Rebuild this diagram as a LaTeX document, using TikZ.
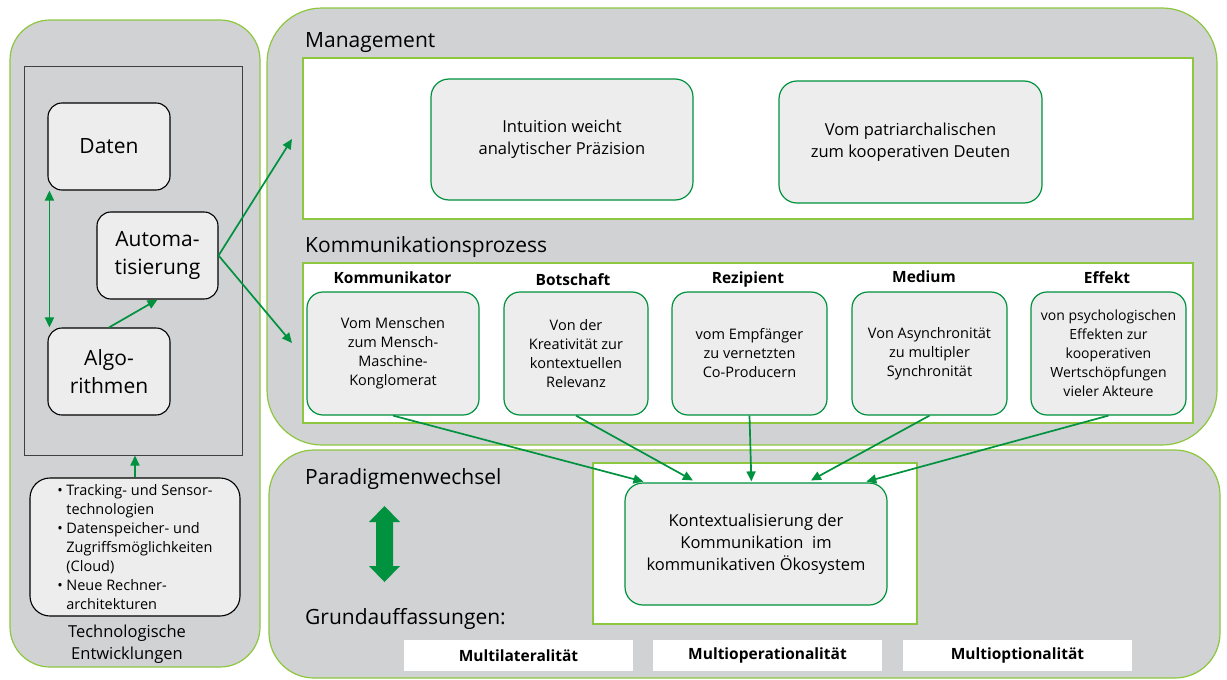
\documentclass[tikz,border=0pt]{standalone}
\usepackage{fontspec}
\setmainfont{Open Sans}
\usetikzlibrary{arrows.meta,calc}
\definecolor{pgreen}{HTML}{8DC63F}
\definecolor{dgreen}{HTML}{00923F}
\definecolor{pgray}{HTML}{D1D2D4}
\definecolor{bfill}{HTML}{EDEDED}
\definecolor{dgray}{HTML}{404040}
\newcommand{\bul}{\makebox[9pt][l]{•}}
\newcommand{\ind}{\hspace*{9pt}}
\begin{document}
\begin{tikzpicture}[x=1pt,y=-1pt,
 panel/.style={draw=pgreen, line width=1.2pt, fill=pgray, rectangle, inner sep=0pt},
 whitebox/.style={draw=pgreen, line width=1.2pt, fill=white, rectangle, inner sep=0pt},
 gbox/.style={draw=dgreen, line width=1.2pt, fill=bfill, rounded corners=18pt, rectangle, align=center, inner sep=2pt, font=\fontsize{16.5}{22}\selectfont},
 cbox/.style={gbox, rounded corners=16pt, minimum height=123pt, font=\fontsize{14.5}{19}\selectfont},
 kbox/.style={draw=black, line width=1.1pt, fill=bfill, rounded corners=14pt, rectangle, align=center, minimum width=122pt, minimum height=87pt, font=\fontsize{21}{28}\selectfont},
 arr/.style={draw=dgreen, line width=1.7pt, -{Triangle[length=10pt,width=9pt]}},
 darr/.style={draw=dgreen, line width=1.7pt, {Triangle[length=10pt,width=9pt]}-{Triangle[length=10pt,width=9pt]}},
 head/.style={anchor=base, font=\bfseries\fontsize{15.5}{18}\selectfont},
 sect/.style={anchor=base west, inner sep=0pt, font=\fontsize{21}{25}\selectfont},
 lbox/.style={fill=white, rectangle, minimum width=229pt, minimum height=31pt, inner sep=0pt, font=\bfseries\fontsize{15.5}{18}\selectfont},
]
\useasboundingbox (0,0) rectangle (1227,680);

% left panel
\node[panel, rounded corners=40pt, minimum width=250pt, minimum height=647pt] (left) at (135,343.5) {};
\node[draw=dgray, line width=1pt, fill=pgray, rectangle, minimum width=218pt, minimum height=389pt, inner sep=0pt] (inner) at (133,260.5) {};
\node[kbox] (daten) at (109,146.5) {Daten};
\node[kbox, minimum width=121pt] (auto) at (157.5,255.5) {Automa-\\tisierung};
\node[kbox] (algo) at (109,371.5) {Algo-\\rithmen};
\node[draw=black, line width=1.1pt, fill=bfill, rounded corners=20pt, rectangle, minimum width=210pt, minimum height=138pt, align=left, inner sep=0pt, font=\fontsize{14.5}{19}\selectfont] (tech) at (135,547)
 {\bul Tracking- und Sensor-\\\ind technologien\\\bul Datenspeicher- und\\\ind Zugriffsmöglichkeiten\\\ind (Cloud)\\\bul Neue Rechner-\\\ind architekturen};
\node[align=center, font=\fontsize{16.5}{22}\selectfont] (techlabel) at (127,644) {Technologische\\Entwicklungen};

% management panel
\node[panel, rounded corners=55pt, minimum width=950pt, minimum height=437pt] (mgmt) at (742,226.5) {};
\node[sect] (mlabel) at (305,47) {Management};
\node[whitebox, minimum width=890pt, minimum height=161pt] (mwhite) at (748,138.5) {};
\node[gbox, minimum width=262pt, minimum height=121pt] (intu) at (562,139.5) {Intuition weicht\\analytischer Präzision};
\node[gbox, minimum width=263pt, minimum height=122pt] (patri) at (910.5,142) {Vom patriarchalischen\\zum kooperativen Deuten};
\node[sect] (klabel) at (305,252) {Kommunikationsprozess};
\node[whitebox, minimum width=890pt, minimum height=160pt] (kwhite) at (748,343) {};
\node[head] (hkomm) at (392.5,283) {Kommunikator};
\node[head] (hbots) at (573,285) {Botschaft};
\node[head] (hrez) at (748,283) {Rezipient};
\node[head] (hmed) at (924,282) {Medium};
\node[head] (heff) at (1107,283) {Effekt};
\node[cbox, minimum width=172pt] (komm) at (393,353.5) {Vom Menschen\\zum Mensch-\\Maschine-\\Konglomerat};
\node[cbox, minimum width=144pt] (bots) at (576,353.5) {Von der\\Kreativität zur\\kontextuellen\\Relevanz};
\node[cbox, minimum width=155pt] (rez) at (749.5,353.5) {vom Empfänger\\zu vernetzten\\Co-Producern};
\node[cbox, minimum width=155pt] (med) at (929.5,353.5) {Von Asynchronität\\zu multipler\\Synchronität};
\node[cbox, minimum width=155pt, font=\fontsize{14}{19}\selectfont] (eff) at (1108.5,353.5) {von psychologischen\\Effekten zur\\kooperativen\\Wertschöpfungen\\vieler Akteure};

% bottom panel
\node[panel, rounded corners=45pt, minimum width=951pt, minimum height=228pt] (para) at (744.5,564) {};
\node[whitebox, minimum width=324pt, minimum height=161pt] (pwhite) at (755,543.5) {};
\node[gbox, minimum width=262pt, minimum height=122pt] (kon) at (756,544) {Kontextualisierung der\\Kommunikation\ \ im\\kommunikativen Ökosystem};
\node[sect] (plabel) at (305,484) {Paradigmenwechsel};
\node[sect] (glabel) at (305,624) {Grundauffassungen:};
\fill[dgreen] (384.5,506) -- (400,522) -- (393,522) -- (393,566) -- (400,566) -- (384.5,582) -- (369,566) -- (376,566) -- (376,522) -- (369,522) -- cycle;
\node[lbox] (ml) at (518.5,655.5) {Multilateralität};
\node[lbox] (mo) at (767.5,655.5) {Multioperationalität};
\node[lbox] (mopt) at (1017.5,655.5) {Multioptionalität};

% connectors
\coordinate (tm) at (292,139);
\coordinate (tk) at (292,343);
\draw[darr] ($(daten.south west)+(2,0)$) -- ($(algo.north west)+(2,0)$);
\draw[arr] (algo.north) -- (auto.south);
\draw[arr] (auto.east) -- (tm);
\draw[arr] (auto.east) -- (tk);
\draw[arr] (tech.north) -- (tech.north |- inner.south);
\draw[arr, shorten >=3pt] (komm.south) -- ($(kon.north west)+(22,0)$);
\draw[arr, shorten >=4pt] (bots.south) -- ($(kon.north west)+(72,0)$);
\draw[arr, shorten >=1pt] (rez.south) -- ($(kon.north west)+(127,0)$);
\draw[arr, shorten >=4pt] (med.south) -- ($(kon.north west)+(183,0)$);
\draw[arr, shorten >=3pt] (eff.south) -- ($(kon.north west)+(239,0)$);
\end{tikzpicture}
\end{document}
